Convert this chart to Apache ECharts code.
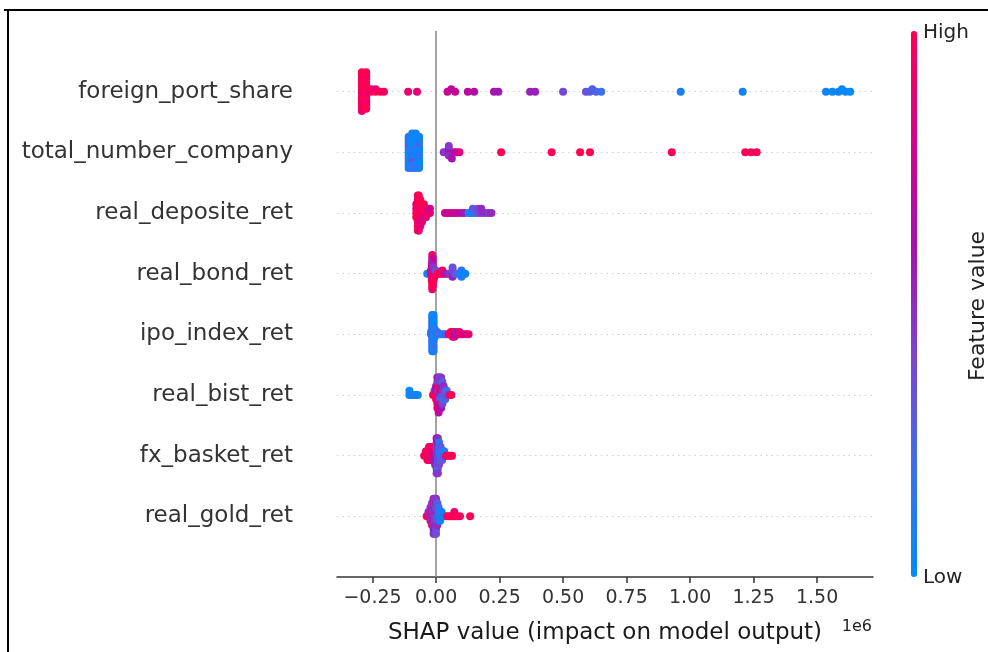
<!doctype html>
<html>
<head>
    <meta charset="utf-8">
    <title>SHAP summary</title>
    <script src="https://cdn.jsdelivr.net/npm/echarts@6.0.0/dist/echarts.min.js"></script>
    <style>
        html, body { margin: 0; padding: 0; background: #fff; }
        #Chart { width: 988px; height: 652px; }
    </style>
</head>
<body>
    <div id="Chart"></div>
<script>
    // features, bottom row first (row index = position on the y axis)
    var features = ['real_gold_ret', 'fx_basket_ret', 'real_bist_ret', 'ipo_index_ret',
        'real_bond_ret', 'real_deposite_ret', 'total_number_company', 'foreign_port_share'];
    var xTicks = [-0.25, 0, 0.25, 0.5, 0.75, 1.0, 1.25, 1.5];

    // [shap value (x 1e6), feature value 0..1]
    var foreignPortShare = [
        [-0.292, 1], [-0.292, 0.95], [-0.292, 1], [-0.292, 1], [-0.292, 0.9], [-0.292, 1], [-0.292, 1], [-0.292, 0.95], [-0.292, 1],
        [-0.292, 1], [-0.292, 0.85], [-0.292, 1], [-0.292, 1], [-0.292, 0.95], [-0.292, 1], [-0.292, 1], [-0.292, 0.9],
        [-0.275, 1], [-0.275, 1], [-0.275, 0.95], [-0.275, 1], [-0.275, 0.9], [-0.275, 1], [-0.275, 1], [-0.275, 0.95],
        [-0.275, 1], [-0.275, 1], [-0.275, 0.88], [-0.275, 1], [-0.275, 1], [-0.275, 0.95], [-0.275, 1], [-0.275, 1],
        [-0.255, 1], [-0.255, 0.95], [-0.238, 1], [-0.238, 0.9], [-0.220, 1], [-0.205, 0.95],
        [-0.110, 0.9], [-0.075, 0.88],
        [0.045, 0.75], [0.060, 0.72], [0.075, 0.72], [0.125, 0.68], [0.150, 0.66],
        [0.228, 0.6], [0.245, 0.58], [0.370, 0.55], [0.390, 0.55], [0.500, 0.38],
        [0.590, 0.35], [0.605, 0.3], [0.615, 0.28], [0.630, 0.25], [0.650, 0.2],
        [0.963, 0.08], [1.207, 0.06],
        [1.535, 0.05], [1.560, 0.03], [1.585, 0.05], [1.598, 0.02], [1.612, 0.03], [1.630, 0]
    ];
    var totalNumberCompany = [
        [-0.108, 0.05], [-0.108, 0.1], [-0.108, 0], [-0.108, 0.15], [-0.108, 0.05], [-0.108, 0.3], [-0.108, 0.1], [-0.108, 0],
        [-0.108, 0.05], [-0.108, 0.2], [-0.108, 0.1],
        [-0.094, 0.1], [-0.094, 0.05], [-0.094, 0.25], [-0.094, 0], [-0.094, 0.1], [-0.094, 0.05], [-0.094, 0.35], [-0.094, 0.1],
        [-0.094, 0.05], [-0.094, 0], [-0.094, 0.15], [-0.094, 0.1],
        [-0.080, 0.05], [-0.080, 0.1], [-0.080, 0], [-0.080, 0.2], [-0.080, 0.05], [-0.080, 0.1], [-0.080, 0.3], [-0.080, 0.05],
        [-0.080, 0.1], [-0.080, 0], [-0.080, 0.15], [-0.080, 0.05],
        [-0.067, 0.1], [-0.067, 0.05], [-0.067, 0.15], [-0.067, 0], [-0.067, 0.1], [-0.067, 0.25], [-0.067, 0.05], [-0.067, 0.1],
        [-0.067, 0], [-0.067, 0.05], [-0.067, 0.1],
        [0.030, 0.5], [0.040, 0.45], [0.050, 0.55], [0.050, 0.6], [0.050, 0.5], [0.050, 0.45], [0.062, 0.6], [0.072, 0.65],
        [0.082, 0.7], [0.092, 0.85],
        [0.256, 1], [0.455, 1], [0.567, 1], [0.606, 1], [0.928, 1], [1.217, 1], [1.240, 0.98], [1.262, 1]
    ];
    var realDepositeRet = [
        [-0.078, 1], [-0.078, 0.9], [-0.078, 1], [-0.078, 0.95],
        [-0.072, 1], [-0.072, 0.95], [-0.072, 1], [-0.072, 0.85], [-0.072, 1], [-0.072, 0.9], [-0.072, 1], [-0.072, 0.95], [-0.072, 1],
        [-0.068, 0.95], [-0.068, 1], [-0.068, 0.9], [-0.068, 1], [-0.068, 0.8], [-0.068, 1], [-0.068, 0.95], [-0.068, 1], [-0.068, 0.9],
        [-0.062, 1], [-0.062, 0.9], [-0.062, 0.95], [-0.062, 1], [-0.062, 0.85], [-0.062, 1], [-0.062, 0.9],
        [-0.055, 1], [-0.055, 0.9], [-0.055, 0.95], [-0.055, 1], [-0.055, 0.85],
        [-0.048, 0.95], [-0.048, 1], [-0.048, 0.9], [-0.048, 1],
        [-0.040, 0.9], [-0.040, 1], [-0.040, 0.85],
        [-0.032, 0.95], [-0.032, 0.85], [-0.024, 0.9], [-0.024, 0.8],
        [0.035, 0.78], [0.048, 0.75], [0.060, 0.72], [0.072, 0.75], [0.085, 0.7], [0.100, 0.68], [0.112, 0.55],
        [0.128, 0.1], [0.138, 0.05], [0.145, 0.1], [0.145, 0.3], [0.155, 0.15], [0.165, 0.35], [0.165, 0.4],
        [0.178, 0.45], [0.178, 0.5], [0.192, 0.5], [0.205, 0.45], [0.218, 0.5]
    ];
    var realBondRet = [
        [-0.035, 0.05], [-0.025, 0.1], [-0.020, 0.9], [-0.020, 0.6],
        [-0.017, 1], [-0.017, 0.7], [-0.017, 0.9], [-0.017, 0.5], [-0.017, 1], [-0.017, 0.8],
        [-0.015, 0.9], [-0.015, 1], [-0.015, 0.6], [-0.015, 0.85], [-0.015, 1], [-0.015, 0.5], [-0.015, 0.95], [-0.015, 0.7],
        [-0.015, 1], [-0.015, 0.55], [-0.015, 0.9], [-0.015, 1],
        [-0.013, 0.8], [-0.013, 1], [-0.013, 0.5], [-0.013, 0.9], [-0.013, 0.65], [-0.013, 1], [-0.013, 0.85], [-0.013, 0.55],
        [-0.013, 1], [-0.013, 0.75],
        [-0.010, 1], [-0.010, 0.6], [-0.010, 0.9], [-0.010, 0.45], [-0.010, 1],
        [-0.006, 0.95], [-0.006, 0.5], [-0.006, 1], [-0.002, 0.9], [-0.002, 0.4],
        [0.006, 1], [0.012, 1], [0.018, 0.95], [0.025, 1], [0.025, 0.9], [0.032, 0.9], [0.040, 0.6], [0.048, 0.5],
        [0.055, 0.45], [0.065, 0.5], [0.065, 0.4], [0.065, 0.55], [0.065, 0.35], [0.072, 0.4], [0.080, 0.3], [0.088, 0.2],
        [0.094, 0.1], [0.100, 0.05], [0.100, 0.15], [0.100, 0.1], [0.108, 0.05], [0.115, 0.05]
    ];
    var ipoIndexRet = [
        [-0.020, 0.1], [-0.020, 0.05],
        [-0.015, 0.05], [-0.015, 0.1], [-0.015, 0.35], [-0.015, 0], [-0.015, 0.15], [-0.015, 0.05], [-0.015, 0.2], [-0.015, 0.1],
        [-0.015, 0.05], [-0.015, 0.3], [-0.015, 0], [-0.015, 0.1], [-0.015, 0.05], [-0.015, 0.15], [-0.015, 0.1], [-0.015, 0.05],
        [-0.010, 0.1], [-0.010, 0.05], [-0.010, 0.2], [-0.010, 0.1], [-0.010, 0], [-0.010, 0.4], [-0.010, 0.05], [-0.010, 0.1],
        [-0.010, 0.15], [-0.010, 0.05], [-0.010, 0.1], [-0.010, 0], [-0.010, 0.25], [-0.010, 0.05], [-0.010, 0.1], [-0.010, 0.05],
        [-0.005, 0.1], [-0.005, 0.2], [-0.005, 0.05], [-0.005, 0.1], [0.000, 0.15], [0.000, 0.05], [0.005, 0.1], [0.005, 0.2],
        [0.010, 0.2], [0.020, 0.15], [0.030, 0.1], [0.040, 0.3], [0.050, 0.9], [0.058, 1], [0.058, 0.95], [0.065, 0.95],
        [0.065, 1], [0.065, 0.9], [0.072, 0.9], [0.072, 1], [0.072, 0.85], [0.080, 0.6], [0.080, 0.55], [0.085, 0.55],
        [0.092, 0.85], [0.092, 0.9], [0.100, 0.9], [0.108, 0.85], [0.118, 0.8], [0.128, 0.9]
    ];
    var realBistRet = [
        [-0.105, 0.05], [-0.105, 0], [-0.097, 0.05], [-0.088, 0.05], [-0.080, 0.1], [-0.072, 0.05],
        [-0.012, 1], [-0.006, 0.9], [-0.006, 0.5],
        [0.000, 1], [0.000, 0.8], [0.000, 0.95], [0.000, 0.6],
        [0.005, 1], [0.005, 0.5], [0.005, 0.9], [0.005, 0.7], [0.005, 1], [0.005, 0.45], [0.005, 0.85], [0.005, 0.6],
        [0.010, 0.9], [0.010, 0.4], [0.010, 1], [0.010, 0.55], [0.010, 0.8], [0.010, 0.3], [0.010, 0.95], [0.010, 0.5], [0.010, 0.7],
        [0.015, 0.5], [0.015, 0.9], [0.015, 0.35], [0.015, 1], [0.015, 0.6], [0.015, 0.45], [0.015, 0.85], [0.015, 0.4],
        [0.020, 0.4], [0.020, 0.8], [0.020, 0.3], [0.020, 0.55], [0.020, 0.95], [0.020, 0.35], [0.020, 0.6], [0.020, 0.45],
        [0.025, 0.35], [0.025, 0.5], [0.025, 0.25], [0.025, 0.7], [0.025, 0.4], [0.025, 0.3],
        [0.030, 0.3], [0.030, 0.45], [0.030, 0.2], [0.030, 0.5],
        [0.036, 0.3], [0.036, 0.4], [0.036, 0.25], [0.042, 0.3], [0.042, 0.2], [0.048, 0.4], [0.055, 0.95], [0.060, 1]
    ];
    var fxBasketRet = [
        [-0.047, 1], [-0.040, 1], [-0.040, 0.95], [-0.034, 1], [-0.034, 0.9], [-0.034, 1],
        [-0.028, 0.95], [-0.028, 1], [-0.028, 0.9], [-0.028, 1], [-0.022, 0.9], [-0.022, 1], [-0.022, 0.85], [-0.022, 0.95],
        [-0.016, 1], [-0.016, 0.8], [-0.016, 0.95], [-0.016, 0.85], [-0.010, 0.8], [-0.010, 0.9], [-0.010, 0.7], [-0.010, 1],
        [-0.004, 0.6], [-0.004, 0.8], [-0.004, 0.55], [-0.004, 0.9], [-0.004, 0.5],
        [0.002, 0.5], [0.002, 0.45], [0.002, 0.6], [0.002, 0.2], [0.002, 0.55], [0.002, 0.4], [0.002, 0.5], [0.002, 0.65], [0.002, 0.45],
        [0.007, 0.45], [0.007, 0.5], [0.007, 0.3], [0.007, 0.55], [0.007, 0.4], [0.007, 0.6], [0.007, 0.2], [0.007, 0.5], [0.007, 0.45],
        [0.012, 0.3], [0.012, 0.1], [0.012, 0.45], [0.012, 0.2], [0.012, 0.4], [0.012, 0.15],
        [0.018, 0.1], [0.018, 0.2], [0.018, 0.05], [0.018, 0.3], [0.024, 0.2], [0.024, 0.1], [0.024, 0.35],
        [0.032, 0.35], [0.032, 0.15], [0.040, 0.9], [0.048, 1], [0.055, 1], [0.063, 1]
    ];
    var realGoldRet = [
        [-0.037, 1], [-0.030, 0.9], [-0.030, 0.5], [-0.022, 0.95], [-0.022, 0.5], [-0.022, 0.8], [-0.022, 0.45],
        [-0.016, 0.5], [-0.016, 0.9], [-0.016, 0.45], [-0.016, 0.55], [-0.016, 1], [-0.016, 0.4],
        [-0.010, 0.5], [-0.010, 0.45], [-0.010, 0.6], [-0.010, 0.4], [-0.010, 0.5], [-0.010, 0.85], [-0.010, 0.45], [-0.010, 0.55], [-0.010, 0.5],
        [-0.005, 0.45], [-0.005, 0.5], [-0.005, 0.4], [-0.005, 0.55], [-0.005, 0.5], [-0.005, 0.35], [-0.005, 0.6], [-0.005, 0.45], [-0.005, 0.5],
        [0.000, 0.4], [0.000, 0.5], [0.000, 0.45], [0.000, 0.3], [0.000, 0.5], [0.000, 0.55], [0.000, 0.4], [0.000, 0.45], [0.000, 0.35],
        [0.005, 0.35], [0.005, 0.45], [0.005, 0.2], [0.005, 0.4], [0.005, 0.5], [0.005, 0.3],
        [0.010, 0.3], [0.010, 0.15], [0.010, 0.4], [0.010, 0.2], [0.016, 0.1], [0.016, 0.2], [0.016, 0.05],
        [0.022, 0.1], [0.022, 0.05], [0.030, 0.05],
        [0.043, 1], [0.052, 0.95], [0.062, 1], [0.072, 1], [0.072, 0.9], [0.082, 1], [0.094, 0.95], [0.134, 1]
    ];
    var rows = [realGoldRet, fxBasketRet, realBistRet, ipoIndexRet, realBondRet, realDepositeRet, totalNumberCompany, foreignPortShare];

    // beeswarm offsets the way shap stacks them: 100 bins per row, alternate up / down
    function swarm(vals) {
        var mn = Math.min.apply(null, vals), mx = Math.max.apply(null, vals);
        var quant = vals.map(function (v) { return Math.round(100 * (v - mn) / (mx - mn + 1e-8)); });
        var inds = vals.map(function (v, i) { return i; });
        inds.sort(function (a, b) { return quant[a] - quant[b] || a - b; });
        var ys = vals.map(function () { return 0; });
        var layer = 0, last = -1;
        inds.forEach(function (i) {
            if (quant[i] !== last) layer = 0;
            ys[i] = Math.ceil(layer / 2) * ((layer % 2) * 2 - 1);
            layer++;
            last = quant[i];
        });
        var top = Math.max.apply(null, ys.map(function (y) { return y + 1; }));
        return ys.map(function (y) { return y * 0.9 * 0.4 / top; });
    }

    var points = [];
    rows.forEach(function (row, r) {
        var off = swarm(row.map(function (p) { return p[0]; }));
        row.forEach(function (p, i) {
            points.push([p[0], r + off[i], p[1]]);
        });
    });

    var font = 'DejaVu Sans';
    var myChart = echarts.init(document.getElementById('Chart'));
    var option = {
        backgroundColor: '#fff',
        animation: false,
        grid: { left: 337, right: 115, top: 31, bottom: 75 },
        xAxis: {
            type: 'value',
            min: -0.39,
            max: 1.72,
            name: 'SHAP value (impact on model output)',
            nameLocation: 'middle',
            nameGap: 56,
            nameTextStyle: { fontFamily: font, fontSize: 23, color: '#1a1a1a', verticalAlign: 'middle' },
            axisLine: { onZero: false, lineStyle: { color: '#333', width: 1.5 } },
            axisTick: { show: true, length: 6, lineStyle: { color: '#333', width: 1.5 }, customValues: xTicks },
            axisLabel: {
                customValues: xTicks,
                margin: 12,
                fontFamily: font,
                fontSize: 19,
                color: '#333',
                formatter: function (v) { return v.toFixed(2).replace('-', '\u2212'); }
            },
            splitLine: { show: false }
        },
        yAxis: {
            type: 'value',
            min: -1,
            max: 8,
            interval: 1,
            axisLine: { show: false },
            axisTick: { show: false },
            splitLine: { show: false },
            axisLabel: {
                margin: 44,
                padding: [7, 0, 0, 0],
                fontFamily: font,
                fontSize: 23,
                color: '#333',
                formatter: function (v) { return features[v] || ''; }
            }
        },
        visualMap: {
            type: 'continuous',
            dimension: 2,
            seriesIndex: 1,
            min: 0,
            max: 1,
            calculable: false,
            hoverLink: false,
            left: 911,
            top: 31,
            padding: 0,
            itemWidth: 6,
            itemHeight: 546,
            text: null,
            inRange: { color: ['#008bfb', '#3b6fee', '#7a45d3', '#a512ae', '#d4048a', '#ff0052'] }
        },
        graphic: [
            { type: 'line', shape: { x1: 4, y1: 10, x2: 988, y2: 10 }, style: { stroke: '#000', lineWidth: 2 } },
            { type: 'line', shape: { x1: 8, y1: 10, x2: 8, y2: 652 }, style: { stroke: '#000', lineWidth: 2 } },
            { type: 'text', x: 923, y: 33, style: { text: 'High', fill: '#222', font: '20px "DejaVu Sans"', textVerticalAlign: 'middle' } },
            { type: 'text', x: 923, y: 578, style: { text: 'Low', fill: '#222', font: '20px "DejaVu Sans"', textVerticalAlign: 'middle' } },
            { type: 'text', x: 978, y: 306, rotation: Math.PI / 2, style: { text: 'Feature value', fill: '#222', font: '22px "DejaVu Sans"', textAlign: 'center', textVerticalAlign: 'middle' } },
            { type: 'text', x: 872, y: 627, style: { text: '1e6', fill: '#222', font: '16px "DejaVu Sans"', textAlign: 'right', textVerticalAlign: 'middle' } }
        ],
        series: [
            {
                type: 'scatter',
                data: [],
                silent: true,
                z: 1,
                markLine: {
                    silent: true,
                    z: 1,
                    symbol: 'none',
                    label: { show: false },
                    data: features.map(function (f, i) {
                        return { yAxis: i, lineStyle: { color: '#cfcfcf', width: 1.2, type: [1.5, 4] } };
                    }).concat([{ xAxis: 0, lineStyle: { color: '#999', width: 1.8, type: 'solid' } }])
                }
            },
            {
                type: 'scatter',
                data: points,
                symbolSize: 8,
                silent: true,
                z: 3,
                itemStyle: { opacity: 1, borderWidth: 0 }
            }
        ]
    };
    myChart.setOption(option);
</script>
</body>
</html>
